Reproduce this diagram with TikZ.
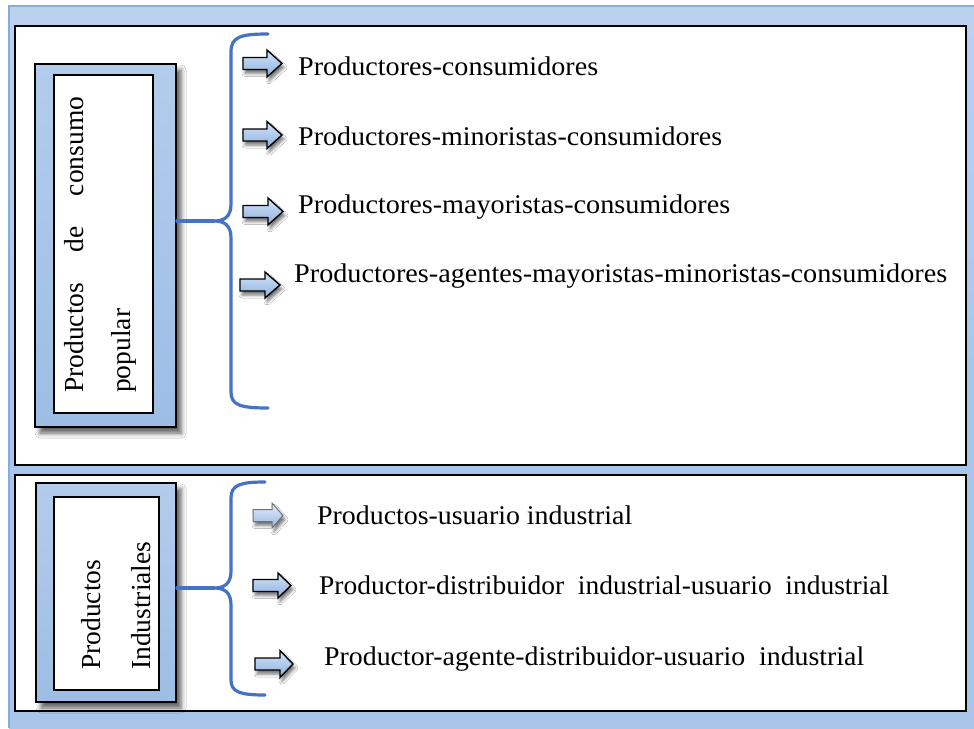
\documentclass[tikz,border=0pt]{standalone}
\usepackage{fontspec}
\usepackage{graphicx}
\setmainfont{Liberation Serif}
\usetikzlibrary{shadows.blur,calc}
\definecolor{framebg}{HTML}{A9C6EA}
\definecolor{framelt}{HTML}{BBD2EF}
\definecolor{frameline}{HTML}{86ACDD}
\definecolor{boxblue}{HTML}{9DBDE5}
\definecolor{boxbluelt}{HTML}{B3CCEC}
\definecolor{bracecol}{HTML}{4472C4}
\definecolor{arrowtop}{HTML}{D4E3F6}
\definecolor{arrowbot}{HTML}{8CB0DF}
\newcommand{\routetext}[2]{\resizebox{#1pt}{\height}{#2}}
% block arrow: name, centre x, centre y, length, head height, shaft height, head length
\newcommand{\blockarr}[8][]{%
  \coordinate (#2) at (#3,#4);
  \path[blockarrow,#1,shift={(#2)}]
    ({-#5/2},{-#7/2}) -- ({#5/2-#8},{-#7/2}) -- ({#5/2-#8},{-#6/2}) -- ({#5/2},0)
    -- ({#5/2-#8},{#6/2}) -- ({#5/2-#8},{#7/2}) -- ({-#5/2},{#7/2}) -- cycle;}
\begin{document}
\begin{tikzpicture}[x=1pt,y=-1pt,
  panel/.style={draw=black,line width=1.6pt,fill=white},
  catbox/.style={draw=black,line width=1.8pt,top color=boxbluelt,bottom color=boxblue,
    inner sep=0pt,
    blur shadow={shadow xshift=5pt,shadow yshift=-6pt,shadow blur radius=5pt,shadow opacity=65}},
  whitebox/.style={draw=black,line width=1.4pt,fill=white,inner sep=0pt},
  brace/.style={draw=bracecol,line width=3.2pt,line cap=round,line join=round},
  blockarrow/.style={draw=black,line width=1.4pt,line join=miter,top color=arrowtop,bottom color=arrowbot,
    blur shadow={shadow xshift=2pt,shadow yshift=-4pt,shadow blur radius=3pt,shadow opacity=55}},
  route/.style={anchor=base west,inner sep=0pt,font=\fontsize{27}{32}\selectfont},
  vlabel/.style={anchor=base west,inner sep=0pt,rotate=90,font=\fontsize{27.5}{32}\selectfont}
]
\useasboundingbox (0,0) rectangle (974,728);

% outer frame
\fill[top color=framelt,bottom color=framebg,middle color=framebg] (9,6) rectangle (974,728);
\draw[frameline,line width=1.4pt] (9,728) -- (9,6) -- (974,6);

% the two panels
\node[panel,minimum width=951pt,minimum height=439pt,inner sep=0pt] (top) at (490.5,245.5) {};
\node[panel,minimum width=951pt,minimum height=236pt,inner sep=0pt] (bot) at (490.5,593) {};

% category boxes
\node[catbox,minimum width=141pt,minimum height=363pt] (cat1) at (105.5,245.5) {};
\node[whitebox,minimum width=99pt,minimum height=338pt] (in1) at (103.5,244) {};
\node[vlabel] (l1a) at (83,393) {\makebox[296pt][s]{Productos\hfill de\hfill consumo}};
\node[vlabel] (l1b) at (130,393) {popular};

\node[catbox,minimum width=140pt,minimum height=219pt] (cat2) at (106,592.5) {};
\node[whitebox,minimum width=105pt,minimum height=193pt] (in2) at (106.5,593.5) {};
\node[vlabel] (l2a) at (100,670) {Productos};
\node[vlabel] (l2b) at (150,670) {Industriales};

% braces
\coordinate (b1top) at (268,34);
\coordinate (b1tip) at (214,221);
\coordinate (b1bot) at (268,408);
\draw[brace] (b1top) .. controls (240,34) and (231,37) .. (231,52) -- (231,204)
  .. controls (231,217) and (224,221) .. (b1tip)
  .. controls (224,221) and (231,225) .. (231,238) -- (231,392)
  .. controls (231,405) and (240,408) .. (b1bot);
\draw[brace] (b1tip) -- (b1tip -| cat1.east);

\coordinate (b2top) at (265,482);
\coordinate (b2tip) at (214,588);
\coordinate (b2bot) at (265,695);
\draw[brace] (b2top) .. controls (240,482) and (231,485) .. (231,498) -- (231,571)
  .. controls (231,584) and (224,588) .. (b2tip)
  .. controls (224,588) and (231,592) .. (231,605) -- (231,680)
  .. controls (231,692) and (240,695) .. (b2bot);
\draw[brace] (b2tip) -- (b2tip -| cat2.east);

% block arrows
\blockarr{a1}{262.5}{63.5}{39}{27}{12}{15}
\blockarr{a2}{262.5}{135}{39}{27}{12}{15}
\blockarr{a3}{263}{211.5}{40}{27}{12}{15}
\blockarr{a4}{260}{285}{40}{26}{12}{15}
\blockarr[draw=black!55,line width=1pt,top color=arrowtop!70!white,bottom color=arrowbot!90!white]{a5}{268}{515.5}{30}{25}{12}{11}
\blockarr{a6}{272}{585.5}{38}{25}{12}{13}
\blockarr{a7}{274}{664}{38}{27}{12}{13}

% routes
\node[route] (r1) at (298,75) {\routetext{300}{Productores-consumidores}};
\node[route] (r2) at (298,145) {\routetext{424}{Productores-minoristas-consumidores}};
\node[route] (r3) at (298,213) {\routetext{432}{Productores-mayoristas-consumidores}};
\node[route] (r4) at (294,282) {\routetext{653}{Productores-agentes-mayoristas-minoristas-consumidores}};
\node[route] (r5) at (317,524) {\routetext{315}{Productos-usuario industrial}};
\node[route] (r6) at (319,594) {\routetext{570}{Productor-distribuidor\ \ industrial-usuario\ \ industrial}};
\node[route] (r7) at (324,665) {\routetext{540}{Productor-agente-distribuidor-usuario\ \ industrial}};
\end{tikzpicture}
\end{document}
